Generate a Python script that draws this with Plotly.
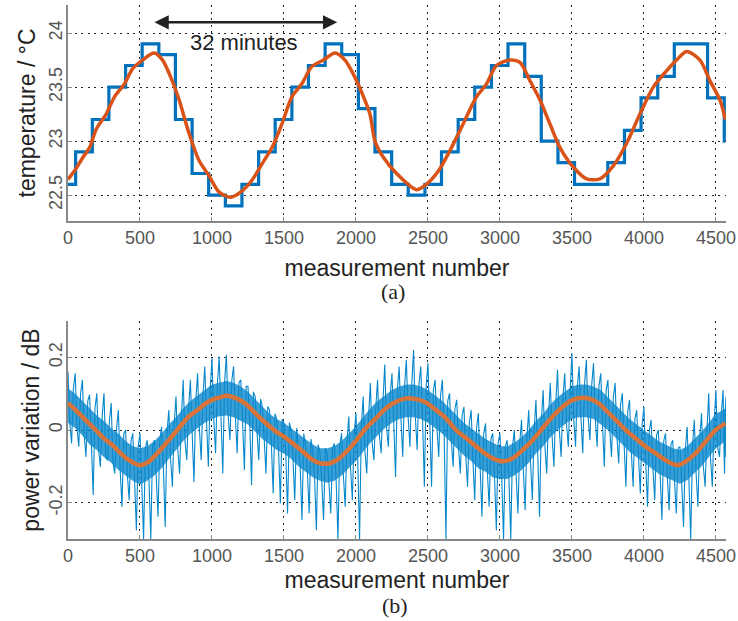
import plotly.graph_objects as go

# ---------------- (a) temperature ----------------
step_start = [0, 53, 169, 284, 400, 515, 631, 746, 862, 977,
              1093, 1208, 1324, 1439, 1555, 1670, 1786, 1901, 2017, 2132,
              2248, 2363, 2479, 2594, 2710, 2825, 2941, 3056, 3172, 3287,
              3403, 3518, 3634, 3749, 3865, 3980, 4096, 4211, 4327, 4442,
              4558]
step_temp = [22.6, 22.9, 23.2, 23.5, 23.7, 23.9, 23.8, 23.2, 22.7, 22.5,
             22.4, 22.6, 22.9, 23.2, 23.5, 23.7, 23.9, 23.8, 23.3, 22.9,
             22.6, 22.5, 22.6, 22.9, 23.2, 23.5, 23.7, 23.9, 23.6, 23.0,
             22.8, 22.6, 22.6, 22.8, 23.1, 23.4, 23.6, 23.9, 23.9, 23.4,
             23.0]
step_last = 4563

fit_x = [0, 53, 104, 150, 196, 265, 323, 392, 449, 518, 599, 657, 714, 772,
         841, 910, 979, 1048, 1129, 1210, 1279, 1348, 1417, 1486, 1555, 1624,
         1693, 1774, 1855, 1924, 1993, 2040, 2097, 2132, 2190, 2282, 2421, 2490,
         2571, 2652, 2745, 2837, 2907, 2976, 3069, 3138, 3208, 3278, 3347,
         3417, 3509, 3602, 3694, 3787, 3880, 3972, 4065, 4157, 4227, 4296,
         4389, 4458, 4528, 4566]
fit_temp = [22.645, 22.74, 22.85, 22.94, 23.11, 23.25, 23.41, 23.53, 23.67,
            23.75, 23.815, 23.75, 23.59, 23.38, 23.07, 22.82, 22.68, 22.53,
            22.48, 22.54, 22.64, 22.79, 22.94, 23.16, 23.41, 23.53, 23.69,
            23.75, 23.815, 23.75, 23.59, 23.45, 23.25, 23.0, 22.85, 22.70,
            22.55, 22.6, 22.72, 22.91, 23.16, 23.41, 23.53, 23.70, 23.75,
            23.73, 23.56, 23.38, 23.16, 22.94, 22.76, 22.65, 22.65, 22.77,
            22.98, 23.25, 23.5, 23.65, 23.75, 23.83, 23.75, 23.56, 23.38, 23.2]

# ---------------- (b) power variation ----------------
# readings of the noisy trace every 50 measurements:
# spike extremes (hi/lo) and the edges of its dense core (core_hi/core_lo)
noise_x = list(range(0, 4551, 50)) + [4570]
noise_hi = [0.161, 0.156, 0.138, 0.097, 0.101, 0.101, 0.074, 0.055, 0.0, -0.009,
            -0.009, -0.028, -0.028, 0.009, 0.055, 0.092, 0.138, 0.138, 0.156, 0.175,
            0.198, 0.202, 0.207, 0.175, 0.138, 0.120, 0.092, 0.064, 0.055, 0.028,
            0.018, 0.0, -0.046, -0.046, -0.055, -0.064, -0.064, -0.037, -0.009, 0.037,
            0.046, 0.092, 0.129, 0.138, 0.18, 0.156, 0.175, 0.193, 0.22, 0.175,
            0.184, 0.138, 0.138, 0.101, 0.083, 0.064, 0.055, 0.046, 0.018, -0.009,
            -0.009, -0.028, 0.0, 0.028, 0.055, 0.083, 0.11, 0.129, 0.166, 0.156,
            0.211, 0.175, 0.193, 0.184, 0.156, 0.138, 0.129, 0.101, 0.083, 0.055,
            0.064, 0.028, 0.0, -0.009, -0.028, -0.046, 0.009, 0.028, 0.046, 0.101,
            0.11, 0.11, 0.092]
noise_lo = [-0.037, -0.046, -0.074, -0.179, -0.101, -0.083, -0.120, -0.211, -0.193, -0.276,
            -0.30, -0.30, -0.239, -0.267, -0.156, -0.120, -0.083, -0.143, -0.083, -0.101,
            -0.064, -0.120, -0.028, -0.064, -0.110, -0.152, -0.083, -0.120, -0.175, -0.202,
            -0.230, -0.193, -0.248, -0.230, -0.276, -0.248, -0.230, -0.30, -0.211, -0.193,
            -0.30, -0.12, -0.083, -0.064, -0.046, -0.129, -0.074, -0.046, -0.055, -0.156,
            -0.156, -0.074, -0.30, -0.101, -0.12, -0.156, -0.193, -0.239, -0.211, -0.276,
            -0.30, -0.30, -0.23, -0.22, -0.193, -0.239, -0.12, -0.101, -0.074, -0.046,
            -0.046, -0.064, -0.028, -0.046, -0.101, -0.074, -0.092, -0.156, -0.156, -0.175,
            -0.211, -0.193, -0.248, -0.221, -0.23, -0.267, -0.30, -0.211, -0.156, -0.156,
            -0.074, -0.12, -0.074]
core_hi = [0.115, 0.100, 0.080, 0.060, 0.040, 0.025, 0.005, -0.010, -0.030, -0.045,
           -0.050, -0.045, -0.030, -0.010, 0.015, 0.035, 0.060, 0.080, 0.095, 0.110,
           0.125, 0.130, 0.135, 0.130, 0.120, 0.105, 0.085, 0.065, 0.045, 0.030,
           0.020, 0.005, -0.010, -0.025, -0.040, -0.050, -0.050, -0.045, -0.030, -0.010,
           0.010, 0.035, 0.060, 0.080, 0.095, 0.110, 0.120, 0.125, 0.125, 0.120,
           0.110, 0.095, 0.080, 0.060, 0.040, 0.020, 0.005, -0.010, -0.025, -0.035,
           -0.045, -0.045, -0.035, -0.020, 0.000, 0.025, 0.045, 0.070, 0.090, 0.105,
           0.120, 0.125, 0.125, 0.120, 0.110, 0.090, 0.070, 0.050, 0.030, 0.015,
           0.000, -0.015, -0.030, -0.040, -0.050, -0.055, -0.045, -0.025, -0.005, 0.020,
           0.045, 0.055, 0.060]
core_lo = [0.020, 0.005, -0.015, -0.040, -0.055, -0.075, -0.090, -0.110, -0.125, -0.140,
           -0.150, -0.140, -0.125, -0.105, -0.080, -0.055, -0.030, -0.010, 0.005, 0.020,
           0.030, 0.038, 0.040, 0.035, 0.025, 0.015, -0.005, -0.025, -0.040, -0.055,
           -0.065, -0.080, -0.100, -0.115, -0.130, -0.140, -0.145, -0.140, -0.125, -0.105,
           -0.085, -0.060, -0.035, -0.015, 0.005, 0.020, 0.030, 0.035, 0.035, 0.030,
           0.020, 0.005, -0.010, -0.030, -0.050, -0.070, -0.085, -0.105, -0.115, -0.130,
           -0.135, -0.135, -0.125, -0.110, -0.090, -0.065, -0.045, -0.020, 0.000, 0.015,
           0.030, 0.035, 0.035, 0.030, 0.015, 0.000, -0.020, -0.040, -0.060, -0.075,
           -0.090, -0.105, -0.120, -0.130, -0.140, -0.148, -0.138, -0.120, -0.100, -0.075,
           -0.050, -0.035, -0.030]

pfit_x = [0, 53, 99, 145, 192, 249, 307, 365, 423, 499, 561, 630, 700, 769, 838,
          908, 949, 1000, 1053, 1104, 1169, 1238, 1308, 1377, 1447, 1500, 1562,
          1632, 1701, 1759, 1817, 1884, 1954, 2000, 2069, 2139, 2208, 2278, 2347,
          2417, 2486, 2556, 2625, 2694, 2773, 2810, 2880, 2949, 3019, 3088, 3157,
          3227, 3296, 3366, 3435, 3505, 3574, 3644, 3699, 3734, 3803, 3873, 3942,
          4012, 4081, 4150, 4231, 4289, 4359, 4428, 4498, 4567]
pfit_val = [0.074, 0.055, 0.037, 0.018, 0.0, -0.023, -0.041, -0.064, -0.083, -0.097,
            -0.087, -0.060, -0.028, 0.005, 0.037, 0.057, 0.071, 0.083, 0.090, 0.094,
            0.087, 0.071, 0.043, 0.018, -0.005, -0.018, -0.037, -0.060, -0.083, -0.092,
            -0.092, -0.078, -0.051, -0.030, 0.005, 0.032, 0.060, 0.078, 0.087, 0.085,
            0.076, 0.055, 0.032, 0.0, -0.025, -0.037, -0.060, -0.078, -0.086, -0.078,
            -0.055, -0.028, 0.005, 0.037, 0.064, 0.083, 0.089, 0.083, 0.069, 0.055,
            0.028, 0.0, -0.023, -0.046, -0.064, -0.083, -0.097, -0.087, -0.064, -0.032,
            0.0, 0.018]

x_ticks = [0, 500, 1000, 1500, 2000, 2500, 3000, 3500, 4000, 4500]
temp_ticks = [22.5, 23, 23.5, 24]
pow_ticks = [-0.2, 0, 0.2]
pow_ticktext = ["-0.2", "0", "0.2"]

BLUE = "#0072BD"
BLUE2 = "#0787CC"
ORANGE = "#D95319"
ORANGE2 = "#D8743A"
FONT = "Liberation Sans, Arial, Helvetica, sans-serif"

# step trace
sx = step_start + [step_last]
sy = step_temp + [step_temp[-1]]

# noisy trace drawn through the readings: extreme -> core -> extreme -> core
zx, zy = [], []
for i, x in enumerate(noise_x):
    step = (noise_x[i + 1] - x) if i + 1 < len(noise_x) else 0
    q = step / 4
    zx += [x, x + q, x + 2 * q, x + 3 * q]
    zy += [noise_hi[i], core_lo[i], noise_lo[i], core_hi[i]]

fig = go.Figure()
fig.add_trace(go.Scatter(x=sx, y=sy, mode="lines", line=dict(color=BLUE, width=3.2, shape="hv"),
                         xaxis="x", yaxis="y", showlegend=False, hoverinfo="skip"))
fig.add_trace(go.Scatter(x=fit_x, y=fit_temp, mode="lines", line=dict(color=ORANGE, width=3.5, shape="spline", smoothing=0.8),
                         xaxis="x", yaxis="y", showlegend=False))
# dense core of the noisy trace
fig.add_trace(go.Scatter(x=noise_x, y=core_lo, mode="lines", line=dict(width=0),
                         xaxis="x2", yaxis="y2", showlegend=False, hoverinfo="skip"))
fig.add_trace(go.Scatter(x=noise_x, y=core_hi, mode="lines", line=dict(width=0),
                         fill="tonexty", fillcolor="rgba(7,135,204,0.8)",
                         xaxis="x2", yaxis="y2", showlegend=False, hoverinfo="skip"))
fig.add_trace(go.Scatter(x=zx, y=zy, mode="lines", line=dict(color=BLUE2, width=1.1),
                         xaxis="x2", yaxis="y2", showlegend=False, hoverinfo="skip"))
fig.add_trace(go.Scatter(x=pfit_x, y=pfit_val, mode="lines", line=dict(color=ORANGE2, width=4.5, shape="spline", smoothing=0.8),
                         xaxis="x2", yaxis="y2", showlegend=False))

axis_common = dict(
    showgrid=True, gridcolor="#222222", gridwidth=1.3, griddash="2px,4.5px",
    showline=True, linecolor="#888888", linewidth=1.5, mirror=False,
    ticks="inside", ticklen=4, tickcolor="#888888", tickwidth=1, automargin=False,
    zeroline=False, tickfont=dict(family=FONT, size=18, color="#555555"),
)

xd = [68 / 738, 726 / 738]
fig.update_layout(
    width=738, height=621, margin=dict(l=0, r=0, t=0, b=0, autoexpand=False),
    paper_bgcolor="white", plot_bgcolor="white",
    xaxis=dict(axis_common, domain=xd, range=[0, 4570], anchor="y", tickvals=x_ticks,
               title=dict(text="measurement number", font=dict(family=FONT, size=23, color="#222222"), standoff=13)),
    yaxis=dict(axis_common, domain=[1 - 221 / 621, 1 - 5 / 621], range=[22.26, 24.26], anchor="x",
               tickvals=temp_ticks, tickangle=-90, ticklabelstandoff=-3,
               title=dict(text="temperature / °C", font=dict(family=FONT, size=23, color="#222222"), standoff=4)),
    xaxis2=dict(axis_common, domain=xd, range=[0, 4570], anchor="y2", tickvals=x_ticks,
                title=dict(text="measurement number", font=dict(family=FONT, size=23, color="#222222"), standoff=7)),
    yaxis2=dict(axis_common, domain=[1 - 539 / 621, 1 - 321 / 621], range=[-0.3, 0.3], anchor="x2",
                tickvals=pow_ticks, ticktext=pow_ticktext, tickangle=-90, ticklabelstandoff=-3,
                title=dict(text="power variation / dB", font=dict(family=FONT, size=23, color="#222222"), standoff=0)),
)

fig.add_annotation(x=1870, y=24.10, ax=590, ay=24.10, xref="x", yref="y", axref="x", ayref="y",
                   text="", showarrow=True, arrowhead=2, arrowside="end+start", arrowsize=1.1,
                   arrowwidth=2.6, arrowcolor="#222222")
fig.add_annotation(x=1225, y=23.91, xref="x", yref="y", text="32 minutes", showarrow=False,
                   font=dict(family=FONT, size=22, color="#222222"))
fig.add_annotation(x=393 / 738, y=1 - 291 / 621, xref="paper", yref="paper", text="(a)", showarrow=False,
                   xanchor="center", yanchor="middle",
                   font=dict(family="Liberation Serif, Times New Roman, serif", size=22, color="#222222"))
fig.add_annotation(x=395 / 738, y=1 - 605 / 621, xref="paper", yref="paper", text="(b)", showarrow=False,
                   xanchor="center", yanchor="middle",
                   font=dict(family="Liberation Serif, Times New Roman, serif", size=22, color="#222222"))

fig.write_html("out.html", config={"displayModeBar": False},
               post_script="document.body.style.margin='0px';document.body.style.padding='0px';")
